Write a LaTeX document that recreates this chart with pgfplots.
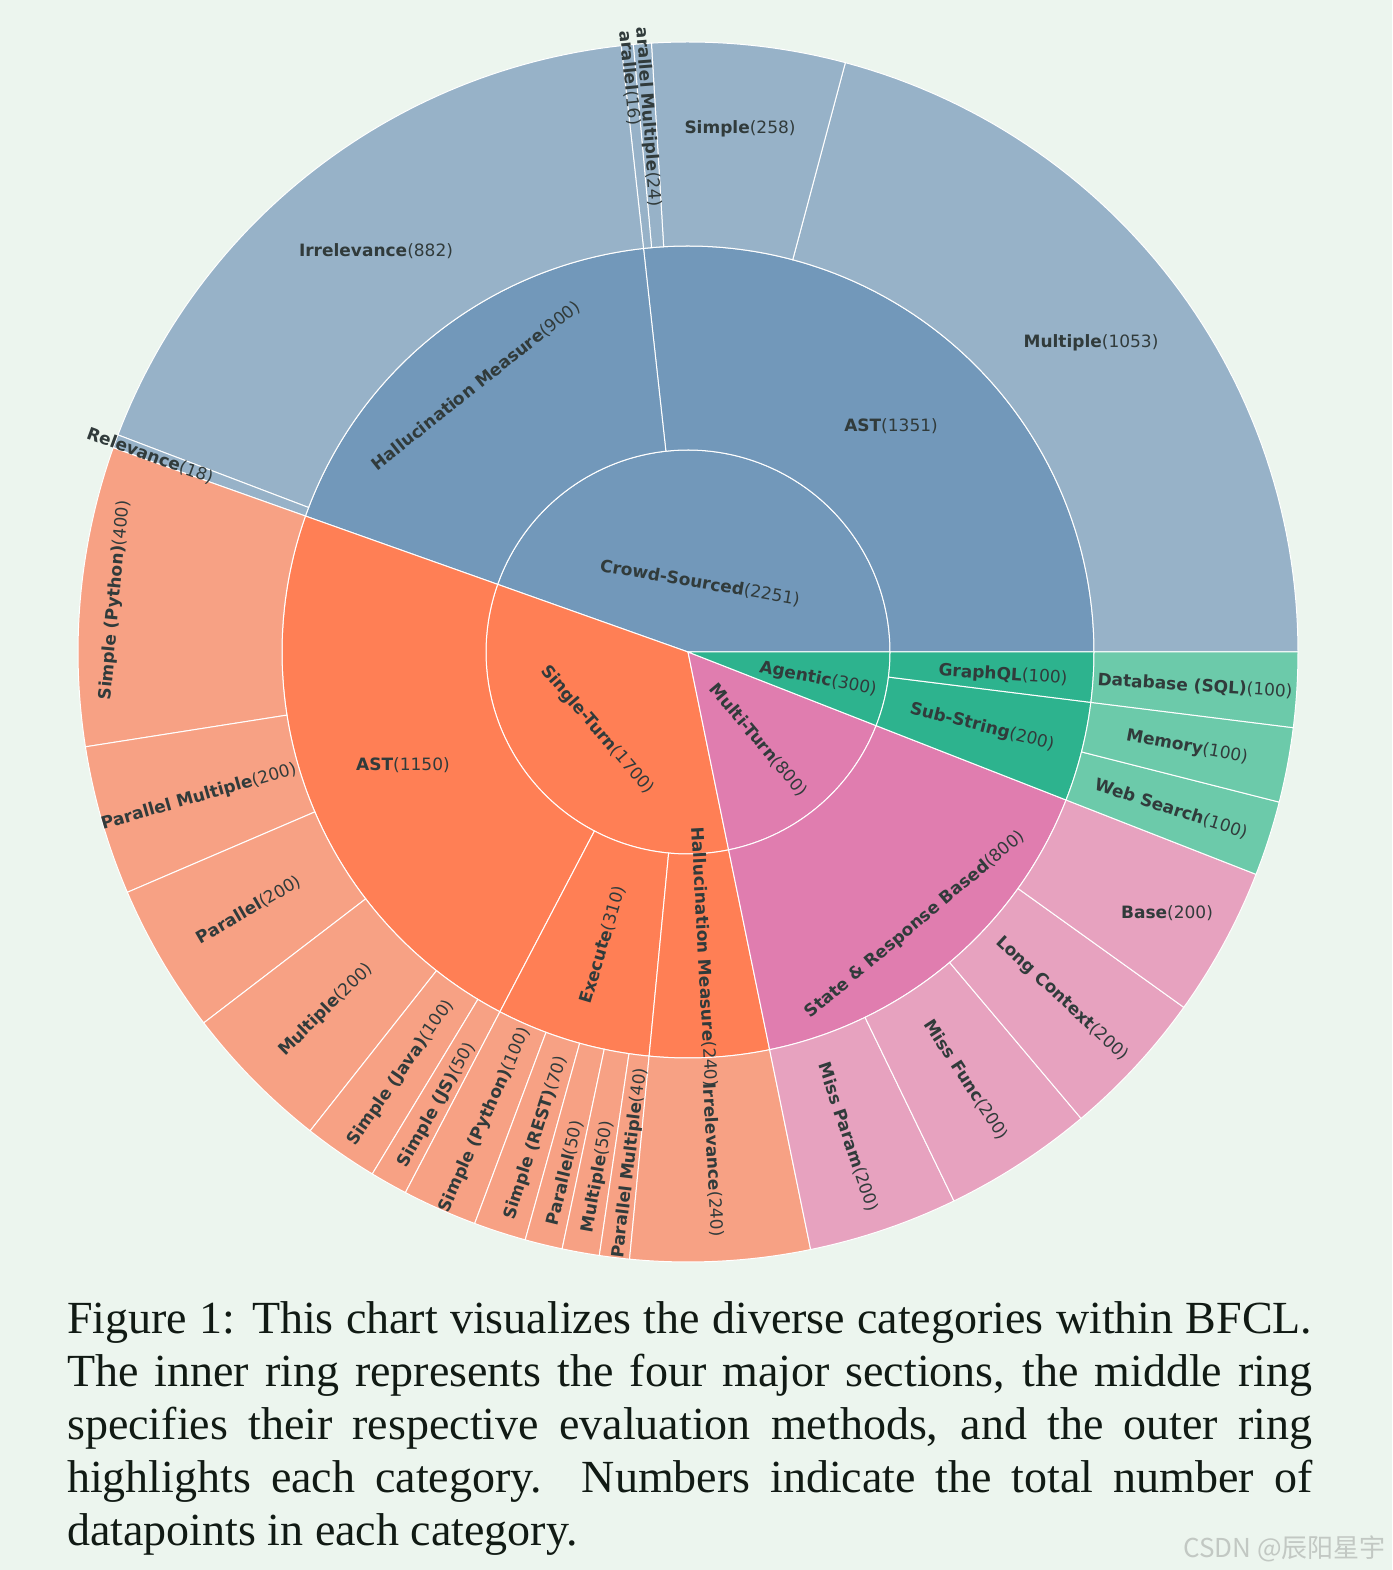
\documentclass[border=0pt]{standalone}
\usepackage{fontspec}
\setmainfont{Liberation Serif}
\newfontfamily\lab{DejaVu Sans}
\newfontfamily\cjk{Noto Sans CJK SC}
\usepackage{pgfplots}
\pgfplotsset{compat=1.18}
\definecolor{bg}{HTML}{ECF5EE}
\definecolor{blueI}{HTML}{7298BA}
\definecolor{blueO}{HTML}{97B2C8}
\definecolor{orI}{HTML}{FF7F55}
\definecolor{orO}{HTML}{F7A184}
\definecolor{pkI}{HTML}{E07DAF}
\definecolor{pkO}{HTML}{E7A2BF}
\definecolor{grI}{HTML}{2DB38E}
\definecolor{grO}{HTML}{6CCAAA}
\definecolor{lbltxt}{HTML}{313B3B}
\definecolor{captxt}{HTML}{111A14}
\definecolor{wm}{HTML}{C2C8C3}
\tikzset{lbl/.style={inner sep=0pt, text=lbltxt, font=\lab\fontsize{17}{20}\selectfont}}
% sector: r1 r2 startcount endcount colour (counts cumulative, total 5051)
\newcommand\sect[5]{%
\addplot[fill=#5, draw=white, line width=1pt, domain=0:3, samples=181, variable=\t]
 ({688+(#2-(#2-#1)*min(max(\t-1,0),1))*cos((#3+(#4-#3)*(min(\t,1)-max(\t-2,0)))*360/5051)},
  {918+(#2-(#2-#1)*min(max(\t-1,0),1))*sin((#3+(#4-#3)*(min(\t,1)-max(\t-2,0)))*360/5051)}) -- cycle;}
\newcommand\lb[5]{\node[lbl, rotate=#3] at (axis cs:#1,#2) {\textbf{#4}#5};}
\begin{document}
\begin{tikzpicture}
\useasboundingbox (0,0) rectangle (1392pt,1570pt);
\fill[bg] (0,0) rectangle (1392pt,1570pt);
\begin{axis}[at={(0,0)}, anchor=south west, width=1392pt, height=1570pt, scale only axis,
  xmin=0, xmax=1392, ymin=0, ymax=1570, hide axis]
% inner ring
\sect{0}{202}{0}{2251}{blueI}
\sect{0}{202}{2251}{3951}{orI}
\sect{0}{202}{3951}{4751}{pkI}
\sect{0}{202}{4751}{5051}{grI}
% middle ring
\sect{202}{406}{0}{1351}{blueI}
\sect{202}{406}{1351}{2251}{blueI}
\sect{202}{406}{2251}{3401}{orI}
\sect{202}{406}{3401}{3711}{orI}
\sect{202}{406}{3711}{3951}{orI}
\sect{202}{406}{3951}{4751}{pkI}
\sect{202}{406}{4751}{4951}{grI}
\sect{202}{406}{4951}{5051}{grI}
% outer ring
\sect{406}{610}{0}{1053}{blueO}
\sect{406}{610}{1053}{1311}{blueO}
\sect{406}{610}{1311}{1335}{blueO}
\sect{406}{610}{1335}{1351}{blueO}
\sect{406}{610}{1351}{2233}{blueO}
\sect{406}{610}{2233}{2251}{blueO}
\sect{406}{610}{2251}{2651}{orO}
\sect{406}{610}{2651}{2851}{orO}
\sect{406}{610}{2851}{3051}{orO}
\sect{406}{610}{3051}{3251}{orO}
\sect{406}{610}{3251}{3351}{orO}
\sect{406}{610}{3351}{3401}{orO}
\sect{406}{610}{3401}{3501}{orO}
\sect{406}{610}{3501}{3571}{orO}
\sect{406}{610}{3571}{3621}{orO}
\sect{406}{610}{3621}{3671}{orO}
\sect{406}{610}{3671}{3711}{orO}
\sect{406}{610}{3711}{3951}{orO}
\sect{406}{610}{3951}{4151}{pkO}
\sect{406}{610}{4151}{4351}{pkO}
\sect{406}{610}{4351}{4551}{pkO}
\sect{406}{610}{4551}{4751}{pkO}
\sect{406}{610}{4751}{4851}{grO}
\sect{406}{610}{4851}{4951}{grO}
\sect{406}{610}{4951}{5051}{grO}
% labels
\lb{1091}{1227}{0}{Multiple}{(1053)}
\lb{740}{1441}{0}{Simple}{(258)}
\lb{648}{1453}{-85.7}{arallel Multiple}{(24)}
\lb{630}{1492}{-84.3}{arallel}{(16)}
\lb{376}{1319}{0}{Irrelevance}{(882)}
\lb{150}{1114}{-20.2}{Relevance}{(18)}
\lb{476}{1184}{38.4}{Hallucination Measure}{(900)}
\lb{891}{1144}{0}{AST}{(1351)}
\lb{700}{987}{-9.8}{Crowd-Sourced}{(2251)}
\lb{597}{840}{-49.2}{Single-Turn}{(1700)}
\lb{403}{805}{0}{AST}{(1150)}
\lb{115}{970}{84.7}{Simple (Python)}{(400)}
\lb{199}{773}{16.1}{Parallel Multiple}{(200)}
\lb{249}{660}{30.3}{Parallel}{(200)}
\lb{326}{560}{44.6}{Multiple}{(200)}
\lb{401}{497}{55.3}{Simple (Java)}{(100)}
\lb{437}{465}{60.6}{Simple (JS)}{(50)}
\lb{485}{450}{66}{Simple (Python)}{(100)}
\lb{536}{432}{72}{Simple (REST)}{(70)}
\lb{565}{397}{76.3}{Parallel}{(50)}
\lb{598}{393}{79.9}{Multiple}{(50)}
\lb{630}{407}{83.1}{Parallel Multiple}{(40)}
\lb{603}{625}{73.4}{Execute}{(310)}
\lb{704}{613}{-87}{Hallucination Measure}{(240)}
\lb{713}{410}{-87}{Irrelevance}{(240)}
\lb{758}{830}{-50}{Multi-Turn}{(800)}
\lb{915}{645}{40}{State \& Response Based}{(800)}
\lb{848}{433}{-71.3}{Miss Param}{(200)}
\lb{966}{490}{-57}{Miss Func}{(200)}
\lb{1062}{571}{-42.8}{Long Context}{(200)}
\lb{1167}{657}{0}{Base}{(200)}
\lb{818}{891}{-10.7}{Agentic}{(300)}
\lb{1003}{895}{-3.6}{GraphQL}{(100)}
\lb{982}{843}{-14.3}{Sub-String}{(200)}
\lb{1195}{884}{-3.6}{Database (SQL)}{(100)}
\lb{1187}{823}{-10.7}{Memory}{(100)}
\lb{1171}{761}{-17.9}{Web Search}{(100)}
% caption
\node[anchor=north west, inner sep=0pt, text width=1245pt, align=justify, text=captxt,
  font=\fontsize{46}{53}\selectfont] at (axis cs:67,269)
 {Figure 1: This chart visualizes the diverse categories within BFCL.\linebreak
  The inner ring represents the four major sections, the middle ring\linebreak
  specifies their respective evaluation methods, and the outer ring\linebreak
  highlights each category.\ \ Numbers indicate the total number of\linebreak
  datapoints in each category.};
\node[anchor=base east, inner sep=0pt, text=wm, font=\cjk\fontsize{26}{26}\selectfont]
  at (axis cs:1386,13) {CSDN @辰阳星宇};
\end{axis}
\end{tikzpicture}
\end{document}
